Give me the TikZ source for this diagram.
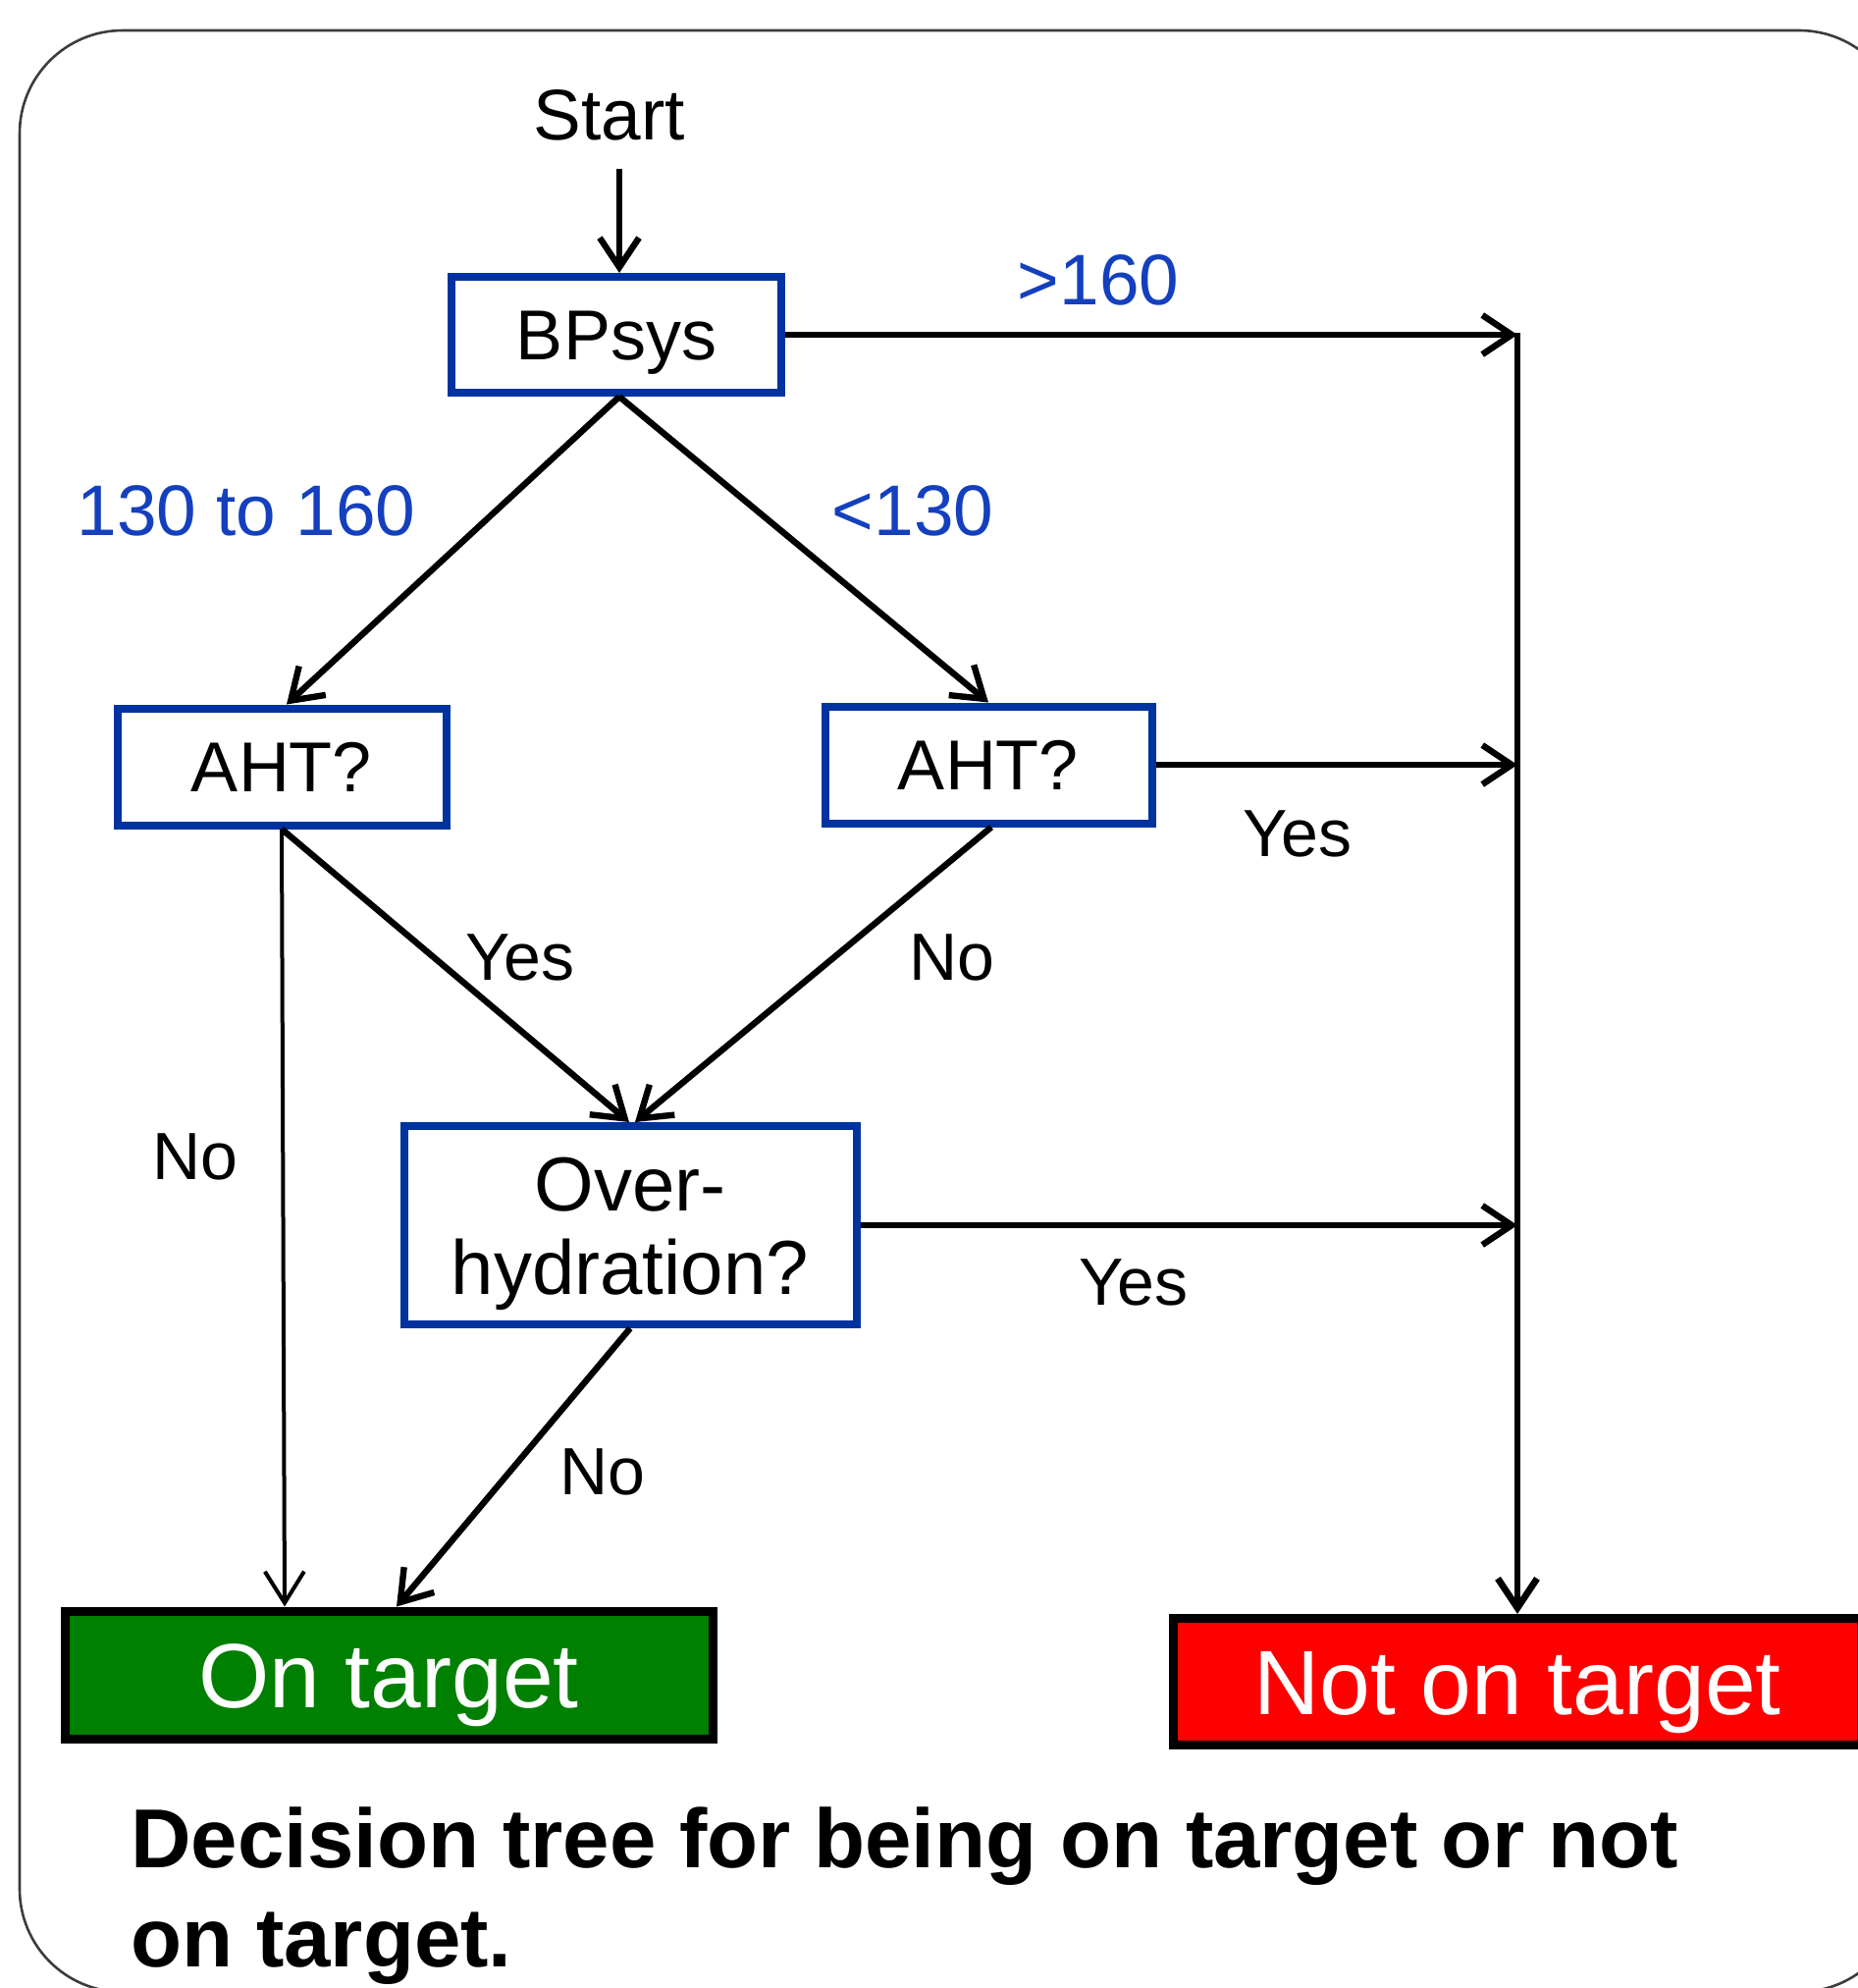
\documentclass[tikz,border=0pt]{standalone}
\usepackage{fontspec}
\setmainfont{Liberation Sans}
\usetikzlibrary{arrows.meta,calc}
\definecolor{bxblue}{RGB}{0,51,160}
\definecolor{lblblue}{RGB}{20,64,190}
\definecolor{ongreen}{RGB}{0,128,0}
\definecolor{offred}{RGB}{255,0,0}
\definecolor{framegray}{RGB}{60,60,60}
\begin{document}
\begin{tikzpicture}[x=0.5pt,y=-0.5pt,
  qbox/.style={draw=bxblue,line width=4pt,fill=white,inner sep=0pt,
    font=\fontsize{36}{43}\selectfont,text height=25.8pt,text depth=0pt},
  endbox/.style={draw=black,line width=4.5pt,inner sep=0pt,text=white,
    font=\fontsize{46.5}{55}\selectfont,text height=33.3pt,text depth=0pt},
  arr/.style={line width=3.2pt,-{Straight Barb[length=15pt,width=20pt]}},
  thinarr/.style={line width=2pt,-{Straight Barb[length=16pt,width=20pt]}},
  lbl/.style={font=\fontsize{34}{40}\selectfont,anchor=base,inner sep=0pt},
  blbl/.style={font=\fontsize{36.5}{43}\selectfont,text=lblblue,anchor=base,inner sep=0pt}
]
\useasboundingbox (0,0) rectangle (1893,2025);
\clip (0,0) rectangle (1893,2025);
\fill[white] (0,0) rectangle (1893,2025);
% outer frame
\draw[line width=1.3pt,draw=framegray,rounded corners=52.5pt] (20,31) rectangle (1938,2029);

% nodes
\node[font=\fontsize{36.5}{44}\selectfont,anchor=base,inner sep=0pt] (start) at (621,142) {Start};
\node[qbox,minimum width=168pt,minimum height=59pt] (bp) at (628,341) {BPsys};
\node[qbox,minimum width=167.5pt,minimum height=59.5pt] (ahtL) at (287,781) {AHT?};
\node[qbox,minimum width=166.5pt,minimum height=59.5pt] (ahtR) at (1007,779) {AHT?};
\node[draw=bxblue,line width=4pt,fill=white,inner sep=0pt,
  minimum width=230.5pt,minimum height=101pt,
  label={[name=ohtext,align=center,inner sep=0pt,yshift=-4.5pt,
    font=\fontsize{39}{42.5}\selectfont]center:Over-\\hydration?}] (oh) at (642,1248) {};
\node[endbox,fill=ongreen,minimum width=330pt,minimum height=65pt] (on) at (396,1706) {On target};
\node[endbox,fill=offred,minimum width=350.5pt,minimum height=64.5pt] (not) at (1546,1713) {Not on target};

% labels
\node[blbl] (l160) at (1119,310) {>160};
\node[blbl] (lmid) at (251,545) {130 to 160};
\node[blbl] (llow) at (930,545) {<130};
\node[lbl] (y1) at (1322,872) {Yes};
\node[lbl] (y2) at (530,998) {Yes};
\node[lbl] (n1) at (970,998) {No};
\node[lbl] (n2) at (199,1201) {No};
\node[lbl] (y3) at (1155,1329) {Yes};
\node[lbl] (n3) at (614,1522) {No};

% title
\node[anchor=north west,align=left,inner sep=0pt,
  font=\bfseries\fontsize{42.6}{50.5}\selectfont] (title) at (133,1840)
  {Decision tree for being on target or not\\on target.};

% connectors
\coordinate (s0) at (631,172);
\coordinate (r1) at (1546,339);
\draw[arr] (s0) -- (s0 |- bp.north);
\draw[arr] (bp.east) -- (bp.east -| r1);
\draw[arr] ($(bp.south)+(3,0)$) -- ($(ahtL.north)+(5,0)$);
\draw[arr] ($(bp.south)+(3,0)$) -- ($(ahtR.north)+(0,0)$);
\draw[arr] (ahtR.east) -- (ahtR.east -| r1);
\draw[arr] (ahtL.south) -- ($(oh.north)+(-1,0)$);
\draw[arr] ($(ahtR.south)+(3,0)$) -- ($(oh.north)+(5,0)$);
\draw[thinarr] (ahtL.south) -- ($(on.north)+(-106,0)$);
\draw[arr] (oh.south) -- ($(on.north)+(8,0)$);
\draw[arr] (oh.east) -- (oh.east -| r1);
\draw[arr,line width=3.4pt] (r1) -- (not.north);
\end{tikzpicture}
\end{document}
